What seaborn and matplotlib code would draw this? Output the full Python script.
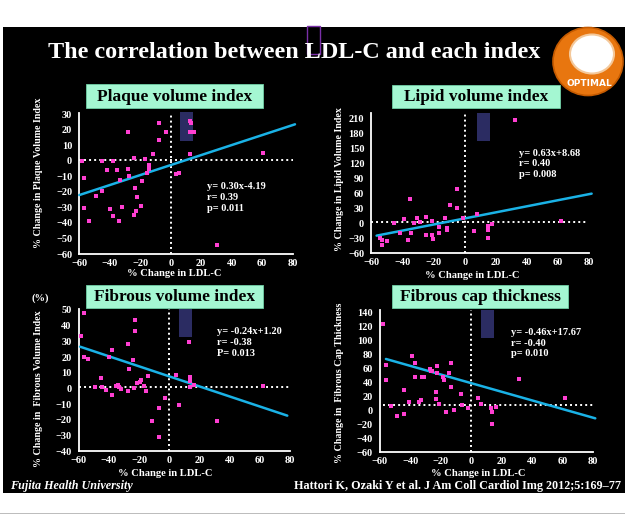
import matplotlib
matplotlib.use('Agg')
import matplotlib.pyplot as plt
import seaborn as sns
import pandas as pd
from matplotlib.patches import Rectangle, Ellipse

sns.set_theme(style='white')
plt.rcParams['font.family'] = ['Liberation Serif', 'DejaVu Serif']
plt.rcParams['font.weight'] = 'bold'

# ---------------- data ----------------
plaque_x = [-58.5, -56.7, -56.7, -53.9, -49.3, -45.1, -45.1, -42.1, -38.1, -39.9, -38.1, -35.3, -34.2, -33.3,
            -32.2, -27.8, -27.8, -27.2, -24.1, -24.1, -23.2, -22.8, -21.9, -19.5, -18.9, -17.1, -15.4, -14.3,
            -14.3, -11.9, -7.5, -7.5, -3.3, 3.4, 5.2, 12.6, 13.1, 12.6, 15.3, 12.6, 30.4, 60.8]
plaque_y = [0, -11, -30.1, -38.7, -22.4, 0, -19.6, -5.9, -0.3, -31, -35.5, -5.9, -38.9, -12.3,
            -29.5, 18.6, -5.4, -9.5, 2.1, -34.6, -17.5, -32.1, -23.5, -29.1, -12.7, 1.4, -7.6, -2.4,
            -5.2, 4.7, 24.2, 13.2, 18.6, -8.7, -8.0, 25.9, 24.2, 18.6, 18.6, 4.4, -54, 5.1]
plaque_fit_x = [-60, 81.5]
plaque_fit_y = [-22, 23.6]

lipid_x = [-54.4, -53.1, -53.1, -50.2, -45.4, -41.6, -38.8, -36.7, -34.7, -35.2, -32.4, -30.5, -28.7, -24.7,
           -24.7, -21.0, -21.0, -20.2, -16.5, -16.5, -12.7, -11.6, -11.6, -9.3, -4.8, -4.8, -0.9, 5.9, 7.7,
           14.7, 15.1, 15.1, 17.5, 32.5, 62.0]
lipid_y = [-29.3, -33.3, -43.3, -34.7, 1.4, -18.6, 8.1, -34, -20, 49, 1.4, 11.5, 3.4, 12.8,
           -24, 4.8, -24, -32, -6.6, -20, 11.5, -8.6, -14, 37.5, 30.2, 69, 11.5, -15.3, 18.8,
           -29.3, -4.6, -14, -1.2, 206.7, 4.8]
lipid_fit_x = [-56.6, 81.5]
lipid_fit_y = [-24.6, 59.6]

fibrous_x = [-58.5, -56.7, -56.5, -53.6, -49.0, -45.0, -44.5, -41.9, -39.7, -37.9, -37.7, -35.0, -33.7, -33.1,
             -31.7, -27.3, -27.3, -26.7, -23.8, -23.6, -22.5, -22.5, -21.4, -19.4, -18.5, -16.5, -15.2, -13.9,
             -11.4, -7.0, -6.8, -2.8, 4.3, 6.2, 13.3, 13.7, 13.7, 14.0, 16.2, 31.6, 62.3]
fibrous_y = [33.4, 47.9, 19.9, 19.0, 1.2, 6.5, 1.2, -0.9, 19.9, 24.5, -4.3, 1.8, 2.0, 1.2,
             -0.5, 28.3, -1.4, 12.4, 18.4, 0.3, 43.6, 36.8, 3.7, 4.1, 5.6, 1.4, -1.4, 7.8,
             -20.7, -12.6, -31.1, -5.8, 8.6, -10.7, 29.4, 7.1, 4.6, 0.8, 2.5, -20.7, 1.4]
fibrous_fit_x = [-59.1, 78.2]
fibrous_fit_y = [26.6, -17.3]

cap_x = [-57.8, -56.1, -56.1, -53.0, -48.6, -44.2, -44.2, -41.2, -39.0, -37.2, -37.2, -34.4, -33.3, -32.7,
         -31.3, -27.0, -26.7, -26.1, -23.5, -23.5, -22.4, -22.4, -21.1, -18.9, -18.0, -16.7, -14.5, -13.4,
         -13.2, -11.2, -6.6, -6.4, -2.5, 4.3, 6.5, 13.1, 13.5, 13.7, 16.1, 31.2, 61.6]
cap_y = [123.8, 64.6, 43.6, 6.3, -8.0, 28.8, -6.1, 11.1, 77.0, 67.9, 46.9, 11.1, 14.5, 47.9,
         46.9, 58.9, 56.0, 56.0, 25.4, 15.9, 62.7, 53.6, 8.7, 47.9, 43.6, -3.2, 53.6, 33.6,
         67.9, 0.1, 22.6, 7.8, 2.5, 16.8, 8.7, 2.5, -3.2, -19.9, 4.9, 45.0, 17.3]
cap_fit_x = [-56.1, 81.3]
cap_fit_y = [73.2, -11.8]

panel_titles = ['Plaque volume index', 'Lipid volume index', 'Fibrous volume index', 'Fibrous cap thickness']
y_labels = ['% Change in Plaque Volume Index', '% Change in Lipid Volume Index',
            '% Change in  Fibrous Volume Index', '% Change in  Fibrous Cap Thickness']
stats_text = [['y= 0.30x-4.19', 'r= 0.39', 'p= 0.011'],
              ['y= 0.63x+8.68', 'r= 0.40', 'p= 0.008'],
              ['y= -0.24x+1.20', 'r= -0.38', 'P= 0.013'],
              ['y= -0.46x+17.67', 'r= -0.40', 'p= 0.010']]
x_ticks = [-60, -40, -20, 0, 20, 40, 60, 80]
y_ticks = [list(range(-60, 31, 10)), list(range(-60, 211, 30)), list(range(-40, 51, 10)), list(range(-60, 141, 20))]

# ---------------- layout ----------------
W, H = 625, 522
def fx(x):
    return x / W
def fy(y):
    return 1 - y / H

PINK = '#ff3fd2'
CYAN = '#1ab2e6'
MINT = '#a4f7d2'
NAVY = '#2b2c62'

fig = plt.figure(figsize=(6.25, 5.22), dpi=100)
fig.patch.set_facecolor('white')
# black slide body
fig.add_artist(Rectangle((fx(3), fy(493)), fx(622), 466 / H, transform=fig.transFigure,
                         facecolor='black', edgecolor='none', zorder=0))
# gray separator line at bottom
fig.add_artist(Rectangle((0, fy(514)), 1, 1.5 / H, transform=fig.transFigure,
                         facecolor='#bdbdbd', edgecolor='none', zorder=0))
# purple box near title
fig.add_artist(Rectangle((fx(307), fy(54)), 13 / W, 28 / H, transform=fig.transFigure,
                         facecolor='black', edgecolor='#7a2fa8', linewidth=1.0, zorder=1))

fig.text(fx(294), fy(52), 'The correlation between LDL-C and each index', color='white',
         fontsize=17.4, fontweight='bold', ha='center', va='center', zorder=3)

# logo
fig.add_artist(Ellipse((fx(588), fy(61.5)), 70 / W, 68 / H, transform=fig.transFigure,
                       facecolor='#e8760f', edgecolor='#c45a00', linewidth=1.2, zorder=2))
fig.add_artist(Ellipse((fx(592), fy(54)), 44 / W, 39 / H, transform=fig.transFigure,
                       facecolor='white', edgecolor='#f4c89a', linewidth=1.5, zorder=3))
fig.text(fx(589), fy(83), 'OPTIMAL', color='white', fontsize=6.5, fontweight='bold',
         ha='center', va='center', family=['DejaVu Sans'], zorder=4)

panels = [
    dict(x=plaque_x, y=plaque_y, fx_=plaque_fit_x, fy_=plaque_fit_y, ylim=(-60, 30.7), hline=0.5,
         rect=(6, 12.6, 8.7, 19), pos=(79.3, 254, 292.7, 113.3), box=(86, 84.3, 262.7, 108.3),
         stat=(206.7, 186.7), ylab=(39, 173), xlab=(174, 274), hx=(-60, 80)),
    dict(x=lipid_x, y=lipid_y, fx_=lipid_fit_x, fy_=lipid_fit_y, ylim=(-60, 220.7), hline=2,
         rect=(8.1, 165.2, 8.1, 56), pos=(371.3, 253.3, 589.3, 113.3), box=(391.7, 85, 560, 108.3),
         stat=(519.3, 153.3), ylab=(340, 179), xlab=(472, 276), hx=(-60, 79)),
    dict(x=fibrous_x, y=fibrous_y, fx_=fibrous_fit_x, fy_=fibrous_fit_y, ylim=(-40, 50.4), hline=1,
         rect=(6.5, 33, 8.6, 17.4), pos=(78.7, 451.3, 290, 309.3), box=(86, 285, 262.7, 308.3),
         stat=(217.3, 331.7), ylab=(39, 389), xlab=(165, 473), hx=(-60, 80)),
    dict(x=cap_x, y=cap_y, fx_=cap_fit_x, fy_=cap_fit_y, ylim=(-60, 143.3), hline=7.8,
         rect=(6.3, 103.7, 8.3, 39.6), pos=(380, 452, 593.3, 310), box=(391.7, 285, 568.3, 308.3),
         stat=(510.7, 332.3), ylab=(340, 383), xlab=(478, 473.5), hx=(-58, 80)),
]

for i, p in enumerate(panels):
    l, b, r, t = p['pos']
    ax = fig.add_axes([fx(l), fy(b), (r - l) / W, (b - t) / H])
    ax.set_facecolor('black')
    ax.set_zorder(2)
    df = pd.DataFrame({'x': p['x'], 'y': p['y']})
    # navy rectangle
    rx, ry, rw, rh = p['rect']
    ax.add_patch(Rectangle((rx, ry), rw, rh, facecolor=NAVY, edgecolor='none', zorder=1, clip_on=False))
    # dotted reference lines
    ax.plot([0, 0], [p['ylim'][0], p['ylim'][1]], color='white', linestyle=(0, (1, 1.6)), linewidth=1.4, zorder=2)
    ax.plot(list(p['hx']), [p['hline'], p['hline']], color='white', linestyle=(0, (1, 1.6)), linewidth=1.4, zorder=2)
    fit = pd.DataFrame({'x': p['fx_'], 'y': p['fy_']})
    sns.lineplot(data=fit, x='x', y='y', ax=ax, color=CYAN, linewidth=1.8, errorbar=None,
                 sort=False, zorder=3, clip_on=False)
    sns.scatterplot(data=df, x='x', y='y', ax=ax, color=PINK, marker='s', s=6, linewidth=0,
                    zorder=4, clip_on=False)
    ax.set_xlim(-60, 80)
    ax.set_ylim(*p['ylim'])
    ax.set_xticks(x_ticks)
    ax.set_yticks(y_ticks[i])
    ax.set_xlabel('')
    ax.set_ylabel('')
    for s in ['top', 'right']:
        ax.spines[s].set_visible(False)
    for s in ['left', 'bottom']:
        ax.spines[s].set_color('white')
        ax.spines[s].set_linewidth(1.3)
    ax.tick_params(axis='both', colors='white', direction='out', length=2.6, width=1.1, labelsize=7.5)
    ax.tick_params(axis='x', pad=0.8)
    ax.tick_params(axis='y', pad=2.5)
    for lab in ax.get_xticklabels() + ax.get_yticklabels():
        lab.set_fontweight('bold')
        lab.set_color('white')
    # title box
    x0, y0, x1, y1 = p['box']
    fig.add_artist(Rectangle((fx(x0), fy(y1)), (x1 - x0) / W, (y1 - y0) / H, transform=fig.transFigure,
                             facecolor=MINT, edgecolor='#6fcfa5', linewidth=0.6, zorder=3))
    fig.text(fx((x0 + x1) / 2), fy((y0 + y1) / 2 + 0.5), panel_titles[i], color='black', fontsize=12.5,
             fontweight='bold', ha='center', va='center', zorder=4)
    # stats
    sx, sy = p['stat']
    for k, line in enumerate(stats_text[i]):
        fig.text(fx(sx), fy(sy + k * 10.7), line, color='white', fontsize=7.5, fontweight='bold',
                 ha='left', va='center', zorder=5)
    # axis labels
    fig.text(fx(p['ylab'][0]), fy(p['ylab'][1]), y_labels[i], color='white', fontsize=7.2,
             fontweight='bold', rotation=90, ha='center', va='center', zorder=5)
    fig.text(fx(p['xlab'][0]), fy(p['xlab'][1]), '% Change in LDL-C', color='white', fontsize=7.6,
             fontweight='bold', ha='center', va='center', zorder=5)

fig.text(fx(32), fy(298), '(%)', color='white', fontsize=7.5, fontweight='bold', ha='left', va='center')

fig.text(fx(10), fy(486), 'Fujita Health University', color='white', fontsize=8.7, fontweight='bold',
         style='italic', ha='left', va='center')
fig.text(fx(621), fy(486), 'Hattori K, Ozaki Y et al. J Am Coll Cardiol Img 2012;5:169\u201377', color='white',
         fontsize=8.7, fontweight='bold', ha='right', va='center')

fig.savefig('out.png', dpi=100, facecolor=fig.get_facecolor())
